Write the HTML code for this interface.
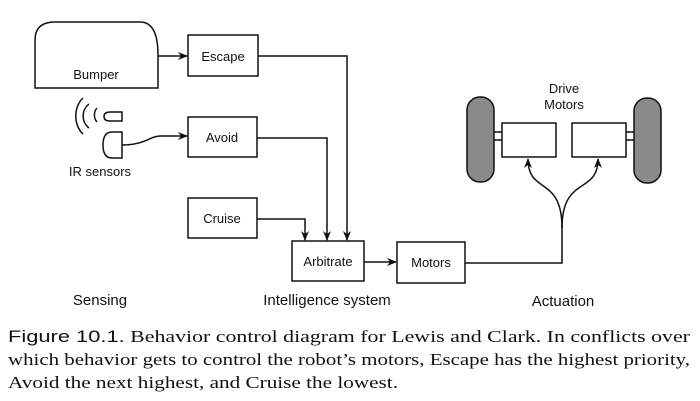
<!DOCTYPE html>
<html><head><style>
body{margin:0;background:#fff;}
svg{display:block;}
.s{font-family:"Liberation Sans",sans-serif;font-size:13px;fill:#111;}
.l{font-family:"Liberation Sans",sans-serif;font-size:15px;fill:#111;}
.c{font-family:"Liberation Serif",serif;font-size:17px;fill:#111;}
</style></head><body>
<svg width="700" height="401" viewBox="0 0 700 401" xmlns="http://www.w3.org/2000/svg">
<defs><marker id="a" markerWidth="10" markerHeight="8" refX="9" refY="4" orient="auto" markerUnits="userSpaceOnUse"><path d="M0,0 L10,4 L0,8 L3,4 Z" fill="#111"/></marker></defs>
<g fill="none" stroke="#111" stroke-width="1.5">
<path d="M35,88 L35,40 Q35,22 55,22 L140,22 Q158,22 158,55 L158,88 Z"/>
<rect x="188" y="35" width="70" height="41"/>
<rect x="188" y="117" width="69" height="40"/>
<rect x="188" y="198" width="69" height="40"/>
<rect x="292" y="241" width="72" height="40"/>
<rect x="397" y="242" width="68" height="41"/>
<rect x="502" y="123" width="54" height="34"/>
<rect x="572" y="123" width="54" height="34"/>
<path d="M158,56 L187,56" marker-end="url(#a)"/>
<path d="M258,56 L347,56 L347,240" marker-end="url(#a)"/>
<path d="M257,138 L327,138 L327,240" marker-end="url(#a)"/>
<path d="M257,219 L305,219 L305,240" marker-end="url(#a)"/>
<path d="M364,262 L396,262" marker-end="url(#a)"/>
<path d="M465,263 L562,263 L562,225"/>
<path d="M562,228 C562,175 528,195 528,159" marker-end="url(#a)"/>
<path d="M562,228 C562,175 598,195 598,159" marker-end="url(#a)"/>
<path d="M122,145 C145,145 150,136 160,136 L187,136" marker-end="url(#a)"/>
<path d="M122,112 L110,112 Q104,112 104,116.5 Q104,121 110,121 L122,121 Z"/>
<path d="M122,132 L112,132 Q103,132 103,145 Q103,158 112,158 L122,158 Z"/>
<path d="M97,108 A7,9 0 0 0 97,122"/>
<path d="M89,104 A12,14 0 0 0 89,128"/>
<path d="M83,98 A17,22 0 0 0 83,134"/>
<path d="M493,132 L502,132 M493,140 L502,140"/>
<path d="M626,132 L634,132 M626,140 L634,140"/>
</g>
<rect x="467" y="97" width="27" height="85" rx="13" fill="#8a8a8a" stroke="#111" stroke-width="1.5"/>
<rect x="634" y="98" width="27" height="85" rx="13" fill="#8a8a8a" stroke="#111" stroke-width="1.5"/>
<text class="s" x="96" y="79" text-anchor="middle">Bumper</text>
<text class="s" x="223" y="61" text-anchor="middle">Escape</text>
<text class="s" x="222" y="142" text-anchor="middle">Avoid</text>
<text class="s" x="222" y="223" text-anchor="middle">Cruise</text>
<text class="s" x="328" y="266" text-anchor="middle">Arbitrate</text>
<text class="s" x="431" y="267" text-anchor="middle">Motors</text>
<text class="s" x="100" y="176" text-anchor="middle">IR sensors</text>
<text class="s" x="564" y="93" text-anchor="middle">Drive</text>
<text class="s" x="564" y="109" text-anchor="middle">Motors</text>
<text class="l" x="100" y="305" text-anchor="middle">Sensing</text>
<text class="l" x="327" y="305" text-anchor="middle">Intelligence system</text>
<text class="l" x="563" y="306" text-anchor="middle">Actuation</text>
<text class="c" x="8" y="342" textLength="682" lengthAdjust="spacingAndGlyphs"><tspan font-family="Liberation Sans, sans-serif">Figure 10.1.</tspan> Behavior control diagram for Lewis and Clark. In conflicts over</text>
<text class="c" x="8" y="365" textLength="682" lengthAdjust="spacingAndGlyphs">which behavior gets to control the robot’s motors, Escape has the highest priority,</text>
<text class="c" x="8" y="388" textLength="390" lengthAdjust="spacingAndGlyphs">Avoid the next highest, and Cruise the lowest.</text>
</svg>
</body></html>
